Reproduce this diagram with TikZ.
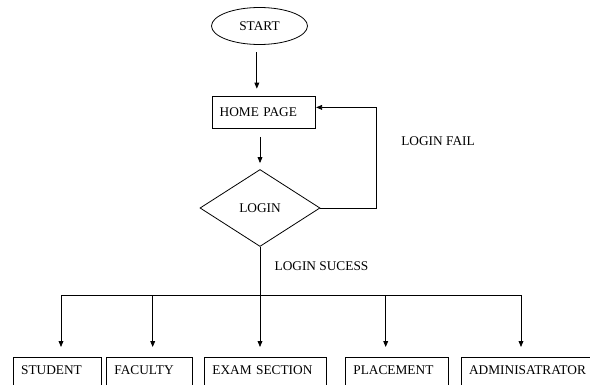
\documentclass[tikz,border=0pt]{standalone}
\usepackage{fontspec}
\setmainfont{Liberation Serif}
\usepackage{tikz}
\usetikzlibrary{shapes.geometric,arrows.meta}
\tikzset{every node/.style={font=\normalsize},
    line/.style={draw,line width=0.6pt},
    arrow/.style={line,-{Triangle[length=4.5pt,width=3.6pt]}},
    startnode/.style={draw,ellipse,line width=0.6pt,minimum width=72pt,minimum height=27.75pt,inner sep=0pt},
    pagebox/.style={draw,line width=0.6pt,anchor=north west,align=left,text width=66.75pt,
        inner xsep=5.25pt,minimum height=24pt},
    decision/.style={draw,diamond,line width=0.6pt,minimum width=90pt,minimum height=57.75pt,inner sep=0pt},
    rolebox/.style={draw,line width=0.6pt,anchor=north west,align=left,text width=#1,
        inner xsep=6pt,inner ysep=0pt,text height=12.75pt,text depth=12pt}}

\begin{document}
\begin{tikzpicture}[x=0.75pt,y=-0.75pt]
            \useasboundingbox (0,0) rectangle (590,385);
            \clip (0,0) rectangle (590,385);
            \node[startnode] (start) at (259.5,26) {START};
            \node[pagebox] (home) at (212.3,96) {HOME PAGE};
            \node[decision] (login) at (260,208) {LOGIN};
            \node (fail) at (438,141) {LOGIN FAIL};
            \node (sucess) at (321.5,266) {LOGIN SUCESS};
            \node[rolebox=54pt] (student) at (12.7,357) {STUDENT};
            \node[rolebox=52.3pt] (faculty) at (106,357) {FACULTY};
            \node[rolebox=79.5pt] (exam) at (204,357) {EXAM SECTION};
            \node[rolebox=65.5pt] (placement) at (345,357) {PLACEMENT};
            \node[rolebox=89.25pt] (admin) at (460.7,357) {ADMINISATRATOR};
            \coordinate (dstudent) at (61,295);
            \coordinate (dfaculty) at (152.7,295);
            \coordinate (dexam) at (260,295);
            \coordinate (dplacement) at (385.7,295);
            \coordinate (dadmin) at (521,295);
            \draw[arrow,shorten <=5.5pt,shorten >=5.5pt] ([xshift=-2pt]start.south)
                -- ([xshift=-2pt]start.south |- home.north);
            \draw[arrow,shorten <=6pt,shorten >=4.5pt] (login.north |- home.south) -- (login.north);
            \draw[arrow] (login.east) -- ++(56,0) |- ([yshift=3.75pt]home.east);
            \draw[line] (login.south) -- (dexam);
            \draw[line] (dstudent) -- (dadmin);
            \foreach \n in {student,faculty,exam,placement,admin}
                \draw[arrow,shorten >=7.5pt] (d\n) -- (d\n |- \n.north);
        \end{tikzpicture}
\end{document}
